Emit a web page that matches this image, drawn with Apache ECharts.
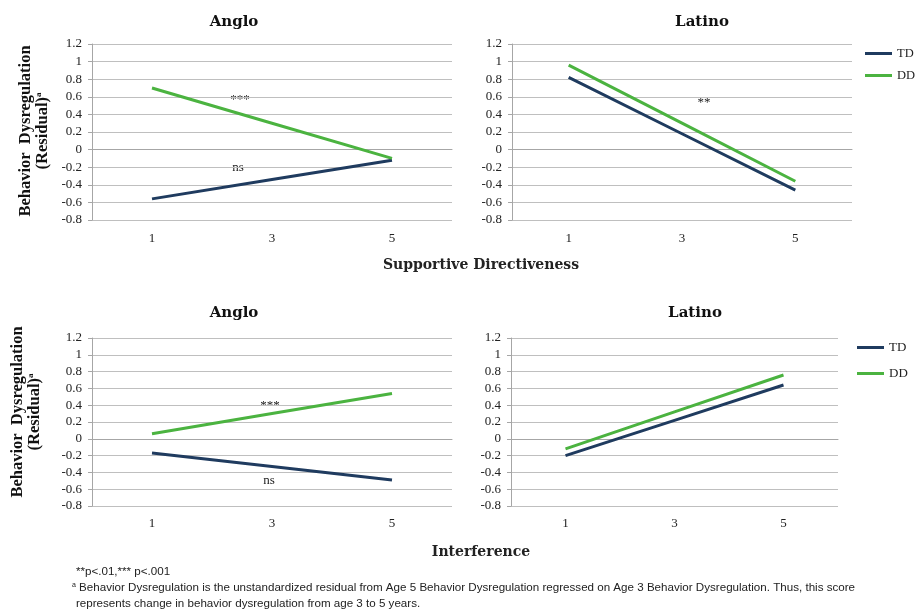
<!DOCTYPE html>
<html><head><meta charset="utf-8">
<script src="https://cdn.jsdelivr.net/npm/echarts@6/dist/echarts.min.js"></script>
<style>html,body{margin:0;padding:0;background:#fff}#c{width:915px;height:614px}</style>
</head><body><div id="c"></div>
<script>
const categories = ['1', '3', '5'];
const seriesNames = ['TD', 'DD'];
const panelTitles = ['Anglo', 'Latino', 'Anglo', 'Latino'];
// Supportive Directiveness
const angloSD_TD = [-0.56, -0.34, -0.12];
const angloSD_DD = [0.70, 0.30, -0.10];
const latinoSD_TD = [0.82, 0.18, -0.46];
const latinoSD_DD = [0.96, 0.30, -0.36];
// Interference
const angloINT_TD = [-0.17, -0.33, -0.49];
const angloINT_DD = [0.06, 0.30, 0.54];
const latinoINT_TD = [-0.20, 0.22, 0.64];
const latinoINT_DD = [-0.12, 0.32, 0.76];
const yMin = -0.8, yMax = 1.2, yStep = 0.2;

const TD_COLOR = '#1f3b5f', DD_COLOR = '#4bb340';
const SERIF = '"Liberation Serif", "Times New Roman", serif';
const TITLE_FONT = '"DejaVu Serif", serif';
const NOTE_FONT = '"Liberation Sans", sans-serif';

const grids = [
  {left: 92, top: 44, width: 360, height: 176},
  {left: 512, top: 44, width: 340, height: 176},
  {left: 92, top: 338, width: 360, height: 168},
  {left: 511, top: 338, width: 327, height: 168}
];
const data = [
  [angloSD_TD, angloSD_DD], [latinoSD_TD, latinoSD_DD],
  [angloINT_TD, angloINT_DD], [latinoINT_TD, latinoINT_DD]
];
const xMargins = [12, 12, 11, 11];

const xAxes = grids.map((g, i) => ({
  type: 'category', gridIndex: i, data: categories, boundaryGap: true,
  axisTick: {show: false},
  axisLine: {lineStyle: {color: '#a6a6a6', width: 1}},
  axisLabel: {color: '#222', fontFamily: SERIF, fontSize: 13, margin: xMargins[i]}
}));
const yAxes = grids.map((g, i) => ({
  type: 'value', gridIndex: i, min: yMin, max: yMax, interval: yStep,
  axisLine: {show: true, lineStyle: {color: '#a6a6a6', width: 1}},
  axisTick: {show: true, length: 4, lineStyle: {color: '#a6a6a6'}},
  splitLine: {show: true, lineStyle: {color: '#bfbfbf', width: 1}},
  axisLabel: {color: '#222', fontFamily: SERIF, fontSize: 13, margin: 10,
    formatter: v => String(Math.round(v * 10) / 10)}
}));

const series = [];
data.forEach((pair, gi) => {
  pair.forEach((vals, si) => {
    series.push({
      name: seriesNames[si], type: 'line', xAxisIndex: gi, yAxisIndex: gi,
      data: vals, symbol: 'none', silent: true, animation: false,
      lineStyle: {color: si === 0 ? TD_COLOR : DD_COLOR, width: 3},
      itemStyle: {color: si === 0 ? TD_COLOR : DD_COLOR}
    });
  });
});

const titles = [
  {text: panelTitles[0], left: 229, top: 10},
  {text: panelTitles[1], left: 697, top: 10},
  {text: panelTitles[2], left: 229, top: 301},
  {text: panelTitles[3], left: 690, top: 301}
].map(t => ({
  text: t.text, left: t.left, top: t.top, textAlign: 'center',
  textStyle: {fontFamily: TITLE_FONT, fontWeight: 'bold', fontSize: 15, color: '#111'}
}));

const legendBase = {
  orient: 'vertical', data: seriesNames, icon: 'rect',
  itemWidth: 27, itemHeight: 3, itemGap: 9, selectedMode: false,
  textStyle: {fontFamily: SERIF, fontSize: 13, color: '#222'}
};
const legends = [
  Object.assign({}, legendBase, {left: 860, top: 42, textStyle: {fontFamily: SERIF, fontSize: 12.5, color: '#222'}}),
  Object.assign({}, legendBase, {left: 852, top: 336, itemGap: 13})
];

const yNameRich = {
  t: {font: 'bold 16.5px ' + SERIF, fill: '#111', lineHeight: 17},
  s: {font: 'bold 9px ' + SERIF, fill: '#111', lineHeight: 17, verticalAlign: 'top', padding: [0, 0, 6, 0]}
};
function yName(cx, cy) {
  return {type: 'text', x: cx, y: cy, rotation: Math.PI / 2,
    style: {text: '{t|Behavior  Dysregulation}\n{t|(Residual)}{s|a}', rich: yNameRich,
      align: 'center', verticalAlign: 'middle'}};
}
function note(x, y, s, size, weight, font, align) {
  return {type: 'text', x: x, y: y,
    style: {text: s, font: (weight || 'normal') + ' ' + size + 'px ' + font, fill: '#222',
      align: align || 'left', verticalAlign: 'middle'}};
}
const graphics = [
  yName(34, 131),
  yName(26, 412),
  note(240, 100, '***', 13, 'normal', SERIF, 'center'),
  note(238, 168, 'ns', 13, 'normal', SERIF, 'center'),
  note(704, 103, '**', 13, 'normal', SERIF, 'center'),
  note(270, 406, '***', 13, 'normal', SERIF, 'center'),
  note(269, 481, 'ns', 13, 'normal', SERIF, 'center'),
  note(481, 265, 'Supportive Directiveness', 14, 'bold', TITLE_FONT, 'center'),
  note(481, 552, 'Interference', 14, 'bold', TITLE_FONT, 'center'),
  note(76, 572, '**p<.01,*** p<.001', 11.6, 'normal', NOTE_FONT),
  {type: 'text', x: 72, y: 588, style: {
    text: '{s|a} Behavior Dysregulation is the unstandardized residual from Age 5 Behavior Dysregulation regressed on Age 3 Behavior Dysregulation. Thus, this score',
    font: '11.6px ' + NOTE_FONT, fill: '#222', verticalAlign: 'middle',
    rich: {s: {fontSize: 7, fontFamily: NOTE_FONT, verticalAlign: 'top', padding: [0, 0, 5, 0]}}}},
  note(76, 604, 'represents change in behavior dysregulation from age 3 to 5 years.', 11.6, 'normal', NOTE_FONT)
];

const chart = echarts.init(document.getElementById('c'), null, {renderer: 'canvas'});
chart.setOption({
  animation: false,
  backgroundColor: '#fff',
  title: titles,
  legend: legends,
  grid: grids,
  xAxis: xAxes,
  yAxis: yAxes,
  series: series,
  graphic: graphics
});
</script></body></html>
